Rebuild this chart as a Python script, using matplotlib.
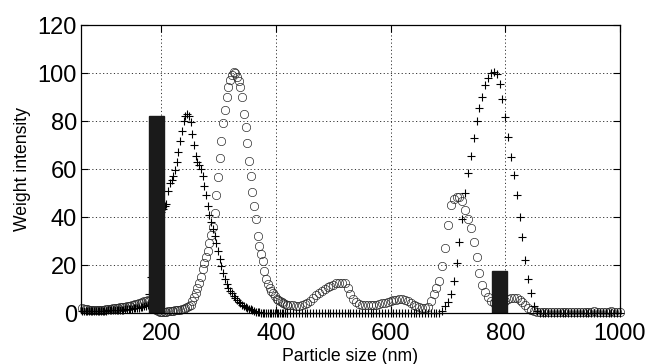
import numpy as np
import matplotlib
matplotlib.use("Agg")
import matplotlib.pyplot as plt

plt.rcParams['font.family'] = ['Liberation Sans', 'DejaVu Sans']

# Particle-size sampling grid (nm)
size_fine = np.arange(62, 420, 3)      # 62 ... 419
size_coarse = np.arange(420, 1001, 5)  # 420 ... 1000
sizes = np.concatenate([size_fine, size_coarse])

# Open-circle series (weight intensity)
circles_fine = [
    2.0, 1.8, 1.6, 1.5, 1.4, 1.3, 1.3, 1.2, 1.2, 1.2,
    1.3, 1.3, 1.4, 1.4, 1.5, 1.6, 1.7, 1.8, 1.9, 2.0,
    2.1, 2.2, 2.3, 2.4, 2.5, 2.6, 2.8, 2.9, 3.1, 3.3,
    3.4, 3.6, 3.8, 4.0, 4.3, 4.6, 4.9, 5.2, 5.4, 5.2,
    4.2, 3.0, 2.0, 1.2, 0.7, 0.5, 0.4, 0.4, 0.5, 0.6,
    0.7, 0.8, 0.9, 1.0, 1.1, 1.2, 1.3, 1.4, 1.6, 1.8,
    2.0, 2.4, 2.9, 3.5, 4.8, 6.5, 8.3, 10.3, 12.5, 15.2,
    18.2, 20.8, 23.3, 26.0, 29.0, 32.5, 36.0, 41.5, 49.0, 56.5,
    64.5, 71.5, 79.0, 84.5, 90.0, 94.0, 97.0, 99.0, 100.3, 99.8,
    98.3, 96.5, 94.2, 90.0, 83.0, 77.5, 71.0, 63.5, 57.0, 50.5,
    44.5, 39.0, 32.0, 28.0, 24.5, 21.5, 17.5, 14.3, 12.0, 10.5,
    9.2, 8.2, 7.0, 6.0, 5.5, 5.0, 4.5, 4.0, 3.7, 3.5,
]
circles_coarse = [
    3.5, 3.3, 3.2, 3.1, 3.1, 3.3, 3.7, 4.3, 5.2, 6.4,
    7.5, 8.5, 9.3, 10.0, 10.7, 11.3, 11.8, 12.3, 12.6, 12.7,
    12.3, 10.5, 8.0, 6.0, 4.6, 3.9, 3.5, 3.3, 3.2, 3.2,
    3.3, 3.5, 3.7, 4.0, 4.3, 4.7, 5.0, 5.3, 5.6, 5.8,
    5.8, 5.5, 4.8, 4.0, 3.3, 2.8, 2.4, 2.1, 2.0, 2.5,
    5.0, 8.0, 10.3, 13.5, 19.5, 27.0, 36.5, 45.0, 47.5, 48.5,
    48.5, 46.5, 43.0, 39.0, 35.5, 29.5, 23.5, 16.5, 11.5, 8.8,
    6.5, 5.0, 4.2, 3.8, 3.8, 4.3, 5.0, 5.7, 6.2, 6.4,
    6.2, 5.6, 4.6, 3.4, 2.2, 1.3, 0.8, 0.6, 0.5, 0.5,
    0.4, 0.4, 0.5, 0.6, 0.6, 0.5, 0.5, 0.4, 0.4, 0.5,
    0.6, 0.6, 0.5, 0.5, 0.4, 0.5, 0.6, 0.7, 0.6, 0.5,
    0.5, 0.5, 0.6, 0.7, 0.6, 0.5, 0.5,
]

# Plus-marker series (weight intensity)
plus_fine = [
    0.8, 0.8, 0.7, 0.7, 0.7, 0.8, 0.8, 0.8, 0.9, 0.9,
    0.9, 1.0, 1.0, 1.0, 1.0, 1.1, 1.1, 1.1, 1.2, 1.2,
    1.2, 1.3, 1.3, 1.4, 1.4, 1.5, 1.5, 1.6, 1.7, 1.8,
    1.9, 2.0, 2.1, 2.2, 2.4, 2.6, 2.8, 3.0, 3.2, 8.0,
    15, 22, 28, 33, 37, 40, 42, 43.5, 44.5, 45.6,
    51, 54, 55.5, 57, 59.5, 63, 67, 71.5, 76, 80,
    82, 83, 82, 79.5, 74.5, 70, 65.5, 63, 61.5, 60,
    57, 53, 49, 44.5, 41, 38, 35, 32, 29, 26,
    22.5, 19.5, 16.5, 14, 12, 10.3, 9.2, 8.2, 7.1, 6.1,
    5.3, 4.6, 4.0, 3.5, 3.0, 2.6, 2.2, 1.8, 1.5, 1.1,
    0.9, 0.6, 0.4, 0.25, 0.15, 0.1, 0.05, 0, 0, 0,
    0, 0, 0, 0, 0, 0, 0, 0, 0, 0,
]
plus_coarse = [
    0, 0, 0, 0, 0, 0, 0, 0, 0, 0,
    0, 0, 0, 0, 0, 0, 0, 0, 0, 0,
    0, 0, 0, 0, 0, 0, 0, 0, 0, 0,
    0, 0, 0, 0, 0, 0, 0, 0, 0, 0,
    0, 0, 0, 0, 0, 0, 0, 0, 0, 0,
    0, 0, 0, 0.2, 1.0, 2.8, 4.7, 7.8, 13.2, 21,
    29.5, 39, 50, 58.5, 65.5, 73, 80, 85.5, 90, 95,
    98, 99.8, 100.4, 99.5, 95.5, 89, 81.5, 73.5, 65, 57.5,
    49, 40, 31.5, 22, 14, 8.5, 3, 0.8, 0.2, 0,
    0, 0, 0, 0, 0, 0, 0, 0, 0, 0,
    0, 0, 0, 0, 0, 0, 0, 0, 0, 0,
    0, 0, 0, 0, 0, 0, 0,
]

circles = np.array(circles_fine + circles_coarse)
pluses = np.array(plus_fine + plus_coarse)

# Solid bars
bar_centers = [192, 790]
bar_heights = [82, 17.6]

x_ticks = [200, 400, 600, 800, 1000]
y_ticks = [0, 20, 40, 60, 80, 100, 120]

fig = plt.figure(figsize=(6.5, 3.64), dpi=100)
ax = fig.add_axes([0.1246, 0.1401, 0.8292, 0.7912])

ax.plot(sizes, circles, linestyle='none', marker='o', markersize=6,
        markerfacecolor='none', markeredgecolor='#2a2a2a',
        markeredgewidth=0.5, clip_on=False, zorder=3)
ax.plot(sizes, pluses, linestyle='none', marker='+', markersize=6,
        markeredgecolor='black', markeredgewidth=0.8,
        clip_on=False, zorder=3)
ax.bar(bar_centers, bar_heights, width=27, color='#1a1a1a',
       edgecolor='#1a1a1a', zorder=5)

ax.set_xlim(60, 1000)
ax.set_ylim(0, 120)
ax.set_xticks(x_ticks)
ax.set_yticks(y_ticks)
ax.tick_params(direction='in', top=True, right=True, length=5,
               width=0.8, labelsize=17, color='black')
ax.tick_params(axis='x', pad=7)
ax.tick_params(axis='y', pad=3)

ax.grid(True, color='#333333', linestyle=(0, (1.2, 2.5)), linewidth=0.7)
ax.set_axisbelow(True)
for s in ax.spines.values():
    s.set_linewidth(0.9)
    s.set_zorder(6)

ax.set_xlabel('Particle size (nm)', fontsize=12.7, labelpad=2)
ax.set_ylabel('Weight intensity', fontsize=12.7, labelpad=5)

fig.savefig('out.png', dpi=100)
